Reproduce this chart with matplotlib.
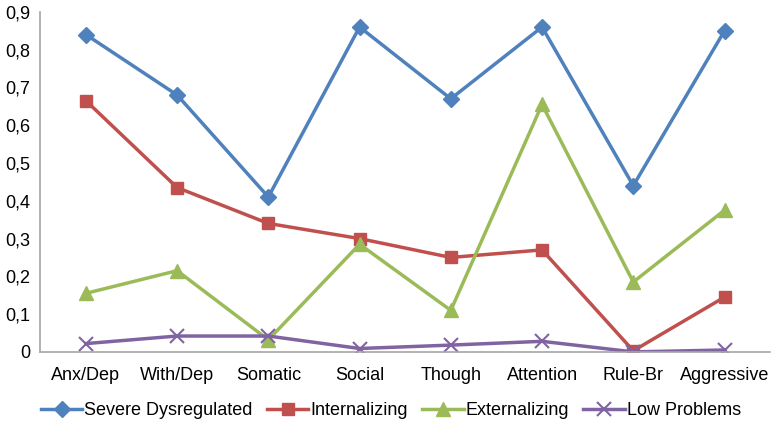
import matplotlib
matplotlib.use('Agg')
import matplotlib.pyplot as plt
from matplotlib.ticker import FuncFormatter

categories = ['Anx/Dep', 'With/Dep', 'Somatic', 'Social', 'Though', 'Attention', 'Rule-Br', 'Aggressive']
severe = [0.84, 0.68, 0.41, 0.86, 0.67, 0.86, 0.44, 0.85]
internalizing = [0.665, 0.435, 0.34, 0.30, 0.25, 0.27, 0.003, 0.145]
externalizing = [0.155, 0.215, 0.032, 0.285, 0.11, 0.655, 0.185, 0.375]
low_problems = [0.022, 0.042, 0.042, 0.009, 0.018, 0.028, 0.0, 0.005]

plt.rcParams['font.family'] = ['Liberation Sans', 'DejaVu Sans']

fig = plt.figure(figsize=(7.74, 4.25), dpi=100)
ax = fig.add_axes([0.052, 0.172, 0.943, 0.8])

x = list(range(len(categories)))
ax.plot(x, severe, color='#4F81BD', lw=2.5, marker='D', ms=8, label='Severe Dysregulated')
ax.plot(x, internalizing, color='#C0504D', lw=2.5, marker='s', ms=9, label='Internalizing')
ax.plot(x, externalizing, color='#9BBB59', lw=2.5, marker='^', ms=10, label='Externalizing')
ax.plot(x, low_problems, color='#8064A2', lw=2.5, marker='x', ms=10, mew=1.5, label='Low Problems')

ax.set_xlim(-0.5, len(categories) - 0.5)
ax.set_ylim(0, 0.9)
ax.set_yticks([i / 10 for i in range(10)])
ax.yaxis.set_major_formatter(FuncFormatter(lambda v, p: '0' if v == 0 else ('%.1f' % v).replace('.', ',')))
ax.set_xticks(x)
ax.set_xticklabels(categories)
ax.tick_params(length=0, labelsize=13, colors='black')
ax.tick_params(axis='x', pad=11)
ax.tick_params(axis='y', pad=7)
for s in ['top', 'right']:
    ax.spines[s].set_visible(False)
for s in ['left', 'bottom']:
    ax.spines[s].set_color('#A6A6A6')
    ax.spines[s].set_linewidth(1.2)

fig.legend(loc='lower center', bbox_to_anchor=(0.505, -0.025), ncol=4, frameon=False,
           fontsize=13, handlelength=2.3, columnspacing=0.8, handletextpad=0.1)

fig.savefig('out.png', dpi=100)
